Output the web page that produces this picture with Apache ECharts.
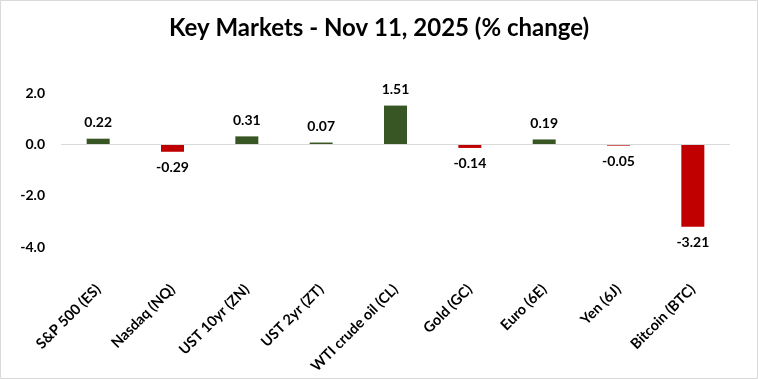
<!DOCTYPE html>
<html>
<head>
<meta charset="utf-8">
<script src="https://cdn.jsdelivr.net/npm/echarts@6/dist/echarts.min.js"></script>
<style>html,body{margin:0;padding:0;background:#fff}#c{width:758px;height:379px}</style>
</head>
<body>
<div id="c"></div>
<script>
const categories = ["S&P 500 (ES)", "Nasdaq (NQ)", "UST 10yr (ZN)", "UST 2yr (ZT)", "WTI crude oil (CL)", "Gold (GC)", "Euro (6E)", "Yen (6J)", "Bitcoin (BTC)"];
const values = [0.22, -0.29, 0.31, 0.07, 1.51, -0.14, 0.19, -0.05, -3.21];
const yTicks = [-4, -2, 0, 2];

const FONT = 'Lato, "Open Sans", sans-serif';
const chart = echarts.init(document.getElementById('c'), null, {renderer: 'canvas'});
chart.setOption({
  animation: false,
  backgroundColor: '#ffffff',
  title: {
    text: 'Key Markets - Nov 11, 2025 (% change)',
    left: 'center', top: 11,
    textStyle: {fontFamily: FONT, fontWeight: 'bold', fontSize: 24, color: '#000'}
  },
  graphic: [{
    type: 'rect', shape: {x: 0.5, y: 0.5, width: 757, height: 378},
    style: {fill: 'none', stroke: '#d9d9d9', lineWidth: 1}, silent: true
  }],
  grid: {left: 61, right: 28, top: 93, bottom: 132, containLabel: false},
  xAxis: {
    type: 'category', data: categories,
    axisLine: {show: false, onZero: false},
    axisTick: {show: false},
    axisLabel: {rotate: 45, margin: 40, interval: 0, fontFamily: FONT, fontWeight: 'bold', fontSize: 14.5, color: '#000'}
  },
  yAxis: {
    type: 'value', min: yTicks[0], max: yTicks[yTicks.length - 1], interval: 2,
    axisLine: {show: false}, axisTick: {show: false}, splitLine: {show: false},
    axisLabel: {margin: 16, fontFamily: FONT, fontWeight: 'bold', fontSize: 14, color: '#000',
      formatter: v => v.toFixed(1)}
  },
  series: [{
    type: 'bar', barWidth: 23,
    data: values.map(v => ({
      value: v,
      itemStyle: {color: v >= 0 ? '#375623' : '#c00000'},
      label: {position: v >= 0 ? 'top' : 'bottom'}
    })),
    label: {show: true, distance: 9, fontFamily: FONT, fontWeight: 'bold', fontSize: 14, color: '#000',
      formatter: p => p.value.toFixed(2)},
    markLine: {
      silent: true, symbol: 'none', label: {show: false},
      lineStyle: {color: '#d9d9d9', type: 'solid', width: 1},
      data: [{yAxis: 0}]
    }
  }]
});
</script>
</body>
</html>
